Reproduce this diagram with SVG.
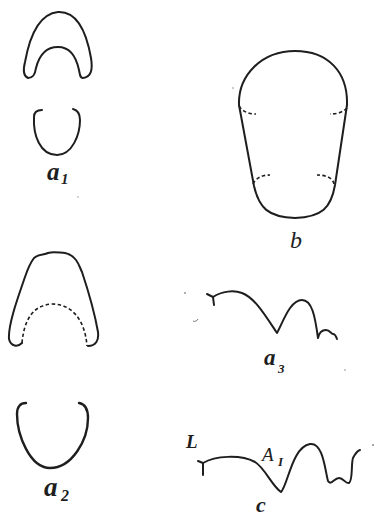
<svg xmlns="http://www.w3.org/2000/svg" width="375" height="518" viewBox="0 0 375 518">
  <style>
    .ink { fill: none; stroke: #1e1e1e; stroke-width: 2; stroke-linecap: round; stroke-linejoin: round; }
    .heavy { stroke-width: 2.4; }
    .dash { fill: none; stroke: #1e1e1e; stroke-width: 1.6; stroke-dasharray: 3.5 2.5; }
    .lbl { font-family: "Liberation Serif", "DejaVu Serif", serif; font-style: italic; fill: #1e1e1e; }
    .speck { fill: #888; }
  </style>
  <rect width="375" height="518" fill="#ffffff"/>

  <!-- a1: upper arch and lower cup -->
  <g id="a1">
    <path class="ink" d="M 28,78 C 23,76 23,70 25,62 C 29,40 38,14 58,12 C 78,11 87,35 91,58 C 93,70 91,77 83,78 C 80,78 80,75 79,70 C 76,56 70,47 58,47 C 46,47 39,56 36,68 C 35,75 33,78 28,78 Z"/>
    <path class="ink" d="M 42,110 C 37,110 34,112 34,117 C 33,135 40,155 57,155 C 72,155 80,135 80,120 C 80,113 77,110 73,109"/>
    <text class="lbl" x="47" y="180" font-size="25" font-weight="bold">a</text>
    <text class="lbl" x="61" y="184" font-size="15" font-weight="bold">1</text>
  </g>

  <!-- b: outline with dashed junction marks -->
  <g id="b">
    <path class="ink" d="M 239,105 C 238,75 262,51 295,51 C 328,51 348,72 347,105 L 335,185 C 331,208 322,217 295,218 C 268,217 259,208 254,186 Z"/>
    <path class="dash" d="M 239,106 C 243,112 249,114 256,114"/>
    <path class="dash" d="M 347,108 C 342,113 336,114 330,114"/>
    <path class="dash" d="M 253,184 C 256,178 262,175 270,175"/>
    <path class="dash" d="M 334,184 C 333,178 326,175 317,175"/>
    <text class="lbl" x="290" y="248" font-size="24">b</text>
  </g>

  <!-- a2: upper arch with dashed inner line, lower cup -->
  <g id="a2">
    <path class="ink" d="M 22,343 C 18,347 11,347 9,339 C 8,325 17,300 25,277 C 28,268 31,262 34,258 C 38,254 44,255 48,253 C 54,251 60,253 65,253 C 70,254 73,256 76,260 C 79,264 80,268 82,272 C 88,290 95,315 98,332 C 99,340 96,346 88,346"/>
    <path class="dash" d="M 22,343 C 24,320 33,305 52,304 C 72,304 85,320 87,346"/>
    <path class="ink heavy" d="M 26,403 C 20,403 17,407 17,414 C 17,435 30,468 50,468 C 72,468 88,440 88,418 C 88,410 85,404 79,403"/>
    <text class="lbl" x="44" y="496" font-size="27" font-weight="bold">a</text>
    <text class="lbl" x="61" y="501" font-size="16" font-weight="bold">2</text>
  </g>

  <!-- a3: traced curve -->
  <g id="a3">
    <path class="ink" d="M 207,294 L 213,297 L 214,305"/>
    <path class="ink" d="M 213,297 C 222,291 234,290 242,293 C 255,298 265,315 277,333 C 283,322 290,300 302,300 C 312,300 315,316 318,338 C 319,333 322,330 326,330 C 330,330 331,334 333,334 C 335,334 336,336 337,339"/>
    <text class="lbl" x="264" y="365" font-size="23" font-weight="bold">a</text>
    <text class="lbl" x="278" y="373" font-size="13" font-weight="bold">3</text>
  </g>

  <!-- c: traced curve with L and A1 marks -->
  <g id="c">
    <path class="ink" d="M 198,461 L 203,463 L 203,475"/>
    <path class="ink" d="M 203,463 C 215,456 240,454 255,462 C 265,468 272,486 281,492 C 288,485 292,447 310,444 C 323,442 325,470 328,481 C 331,486 334,478 339,478 C 344,478 345,484 349,483 C 353,481 351,463 353,458 C 355,454 357,451 360,450"/>
    <text class="lbl" x="186" y="448" font-size="19" font-weight="bold">L</text>
    <text class="lbl" x="262" y="461" font-size="19">A</text>
    <text class="lbl" x="278" y="466" font-size="13" font-weight="bold">I</text>
    <text class="lbl" x="256" y="512" font-size="22" font-weight="bold">c</text>
  </g>

  <!-- specks -->
  <g id="specks">
    <circle class="speck" cx="185" cy="293" r="0.9"/>
    <path d="M 193,321 C 195,322 197,321 198,319" fill="none" stroke="#777" stroke-width="1"/>
    <circle class="speck" cx="345" cy="370" r="0.8"/>
    <circle class="speck" cx="373" cy="445" r="1"/>
    <circle class="speck" cx="78" cy="197" r="0.7"/>
    <circle class="speck" cx="233" cy="88" r="0.8"/>
  </g>
</svg>
